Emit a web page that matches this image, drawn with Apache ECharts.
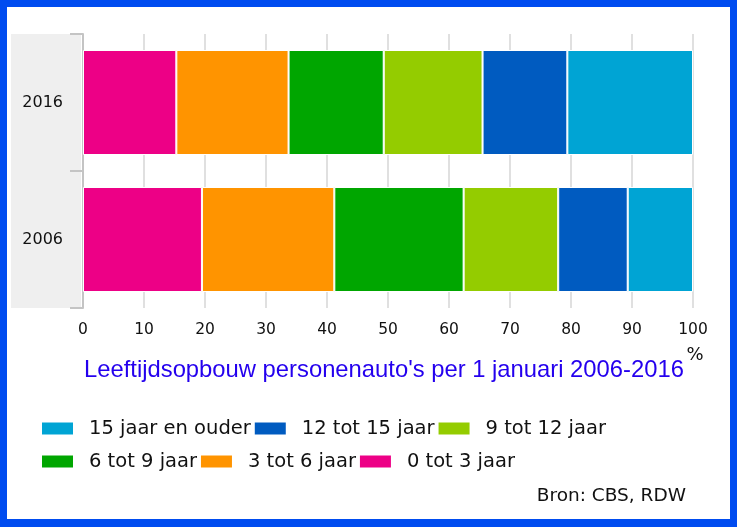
<!DOCTYPE html>
<html>
<head>
<meta charset="utf-8">
<script src="https://cdn.jsdelivr.net/npm/echarts@6/dist/echarts.min.js"></script>
<style>
  html, body { margin: 0; padding: 0; background: #fff; }
  #chart { position: absolute; left: 0; top: 0; width: 737px; height: 527px; }
  #frame { position: absolute; left: 0; top: 0; width: 737px; height: 527px; box-sizing: border-box;
           border: 7px solid #004cf0; border-bottom-width: 8px; pointer-events: none; }
</style>
</head>
<body>
<div id="chart"></div>
<div id="frame"></div>
<script>
const years = ['2006', '2016'];
const seriesNames = ['0 tot 3 jaar', '3 tot 6 jaar', '6 tot 9 jaar', '9 tot 12 jaar', '12 tot 15 jaar', '15 jaar en ouder'];
const v0to3   = [19.5, 15.3];
const v3to6   = [21.7, 18.4];
const v6to9   = [21.2, 15.6];
const v9to12  = [15.5, 16.2];
const v12to15 = [11.4, 13.9];
const v15plus = [10.7, 20.6];
const seriesValues = [v0to3, v3to6, v6to9, v9to12, v12to15, v15plus];
const colors = ['#ed0086', '#ff9400', '#00a600', '#94cc00', '#005bc0', '#00a4d4'];
const legendOrder = ['15 jaar en ouder', '12 tot 15 jaar', '9 tot 12 jaar', '6 tot 9 jaar', '3 tot 6 jaar', '0 tot 3 jaar'];
const xTicks = [0, 10, 20, 30, 40, 50, 60, 70, 80, 90, 100];
const titleText = "Leeftijdsopbouw personenauto's per 1 januari 2006-2016";
const sourceText = 'Bron: CBS, RDW';

const chart = echarts.init(document.getElementById('chart'), null, { renderer: 'canvas' });
const sans = 'DejaVu Sans';
chart.setOption({
  animation: false,
  backgroundColor: '#fff',
  title: [
    { text: titleText, left: 84, top: 358,
      textStyle: { fontFamily: 'Liberation Sans', fontSize: 23.8, fontWeight: 'normal', color: '#2400ee' }, padding: 0 },
    { text: sourceText, right: 51, top: 487,
      textStyle: { fontFamily: sans, fontSize: 18.5, fontWeight: 'normal', color: '#111' }, padding: 0 }
  ],
  graphic: [
    { type: 'rect', left: 11, top: 34, shape: { width: 70, height: 274 }, style: { fill: '#efefef' }, z: -10 }
  ],
  legend: {
    data: legendOrder,
    left: 40, top: 413, width: 610,
    orient: 'horizontal',
    itemWidth: 33, itemHeight: 14, itemGap: 2,
    icon: 'rect',
    padding: 0,
    selectedMode: false,
    textStyle: { fontFamily: sans, fontSize: 19.5, color: '#111', lineHeight: 31, padding: [0, 0, 0, 10] }
  },
  grid: { left: 83, right: 44, top: 34, bottom: 219, containLabel: false },
  xAxis: {
    type: 'value', min: 0, max: 100, interval: 10,
    name: '%', nameLocation: 'end', nameGap: 2,
    nameTextStyle: { fontFamily: sans, fontSize: 18, color: '#111', align: 'center', verticalAlign: 'top', padding: [38, 0, 0, 0] },
    axisLine: { show: false }, axisTick: { show: false },
    axisLabel: { fontFamily: sans, fontSize: 15.5, color: '#111', margin: 14,
      formatter: v => xTicks.includes(v) ? String(v) : '' },
    splitLine: { show: true, lineStyle: { color: '#d6d6d6', width: 1.5 } }
  },
  yAxis: {
    type: 'category', data: years,
    axisLine: { show: true, lineStyle: { color: '#c4c4c4', width: 2 } },
    axisTick: { show: true, length: 13, lineStyle: { color: '#c4c4c4', width: 2 } },
    axisLabel: { fontFamily: sans, fontSize: 16, color: '#111', margin: 20 },
    splitLine: { show: false }
  },
  series: seriesNames.map((name, i) => ({
    name: name, type: 'bar', stack: 'total', barWidth: 105,
    data: seriesValues[i],
    itemStyle: { color: colors[i], borderColor: '#fff', borderWidth: 1 },
    emphasis: { disabled: true }
  }))
});
</script>
</body>
</html>
